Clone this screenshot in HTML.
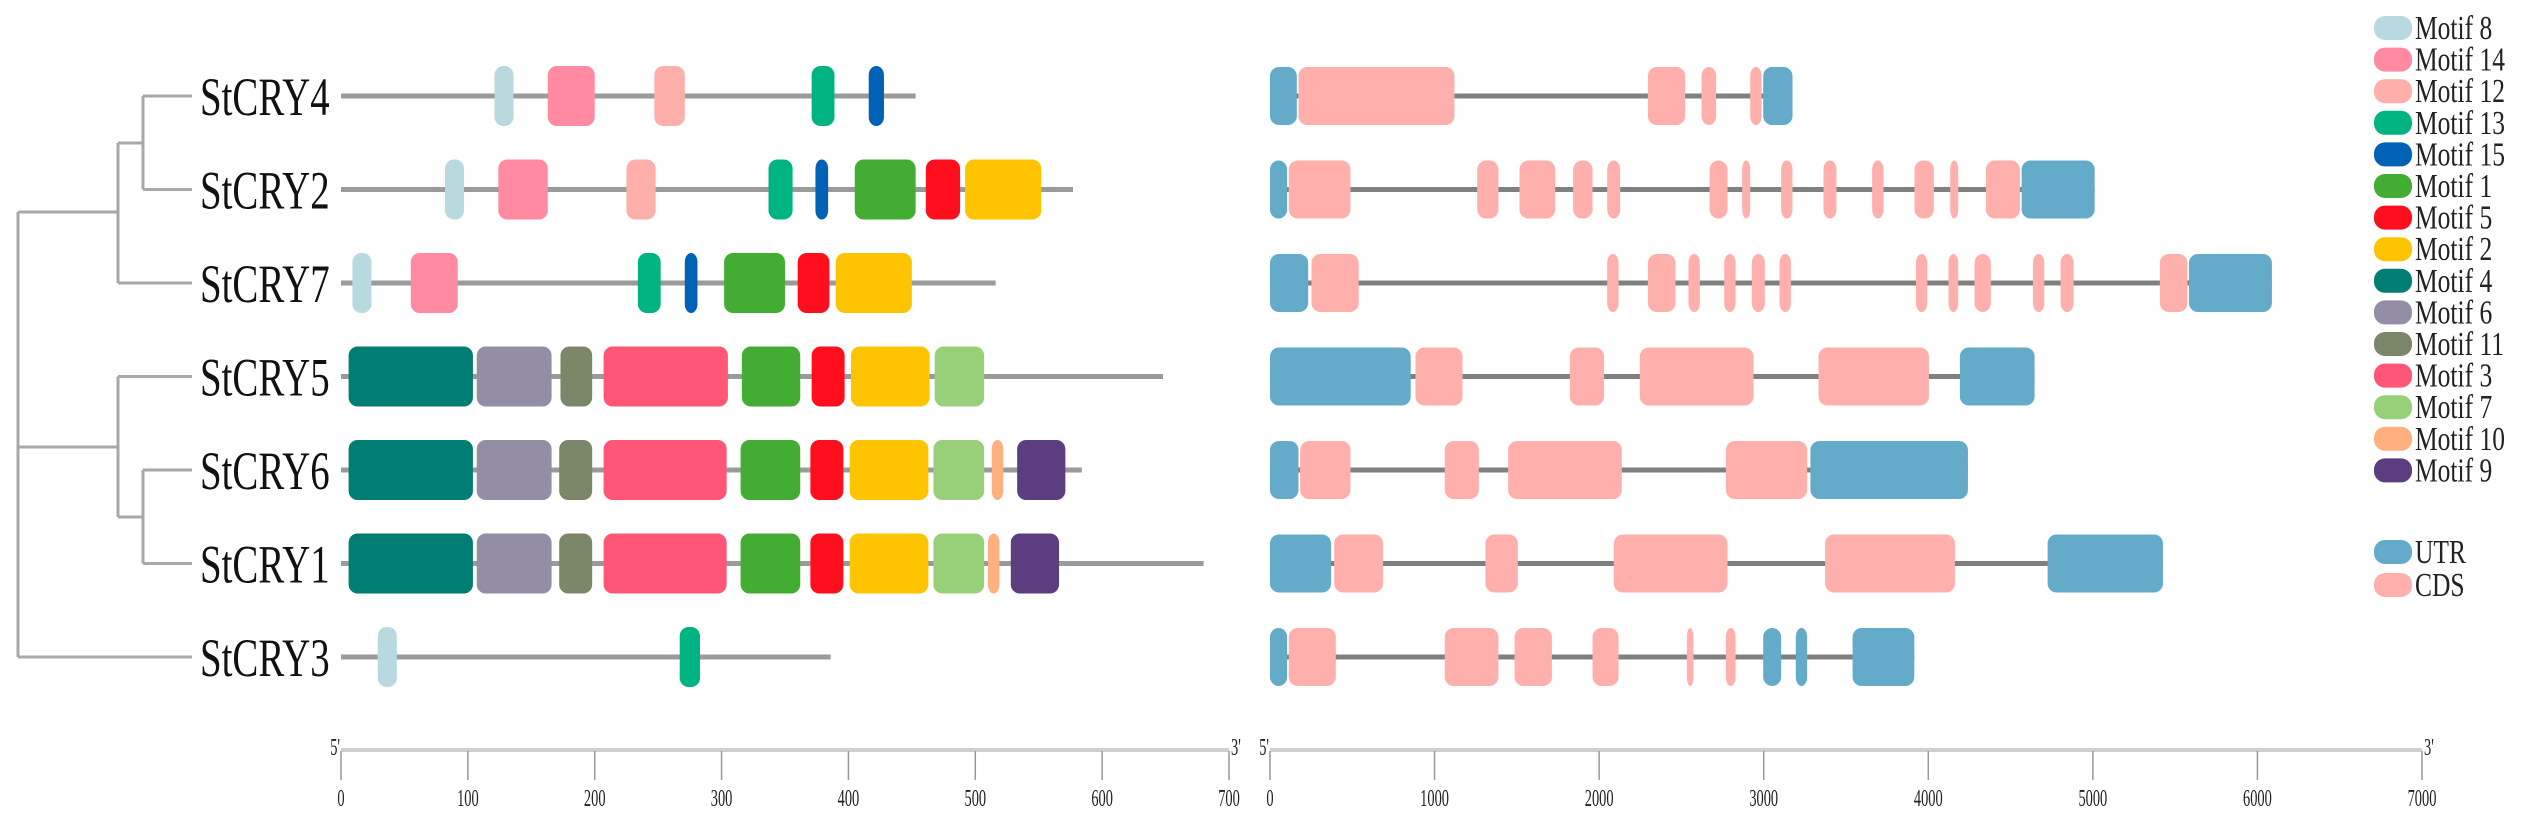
<!DOCTYPE html>
<html><head><meta charset="utf-8"><style>
html,body{margin:0;padding:0;background:#fff;}
svg{display:block;}
text{font-family:"Liberation Serif",serif;}
</style></head>
<body>
<svg id="chart" width="2532" height="817" viewBox="0 0 2532 817" xmlns="http://www.w3.org/2000/svg"></svg>
<script>
const genes = ["StCRY4","StCRY2","StCRY7","StCRY5","StCRY6","StCRY1","StCRY3"];
const proteinLengths = [453,577,516,648,584,680,386];
const motifNames = ["Motif 8","Motif 14","Motif 12","Motif 13","Motif 15","Motif 1","Motif 5","Motif 2","Motif 4","Motif 6","Motif 11","Motif 3","Motif 7","Motif 10","Motif 9"];
const motifColors = {"Motif 8":"#B7D9DF","Motif 14":"#FF8AA1","Motif 12":"#FFAFAA","Motif 13":"#00B482","Motif 15":"#0061B5","Motif 1":"#43AC33","Motif 5":"#FF0F1E","Motif 2":"#FFC400","Motif 4":"#017E73","Motif 6":"#938DA6","Motif 11":"#7C876A","Motif 3":"#FF5677","Motif 7":"#98D079","Motif 10":"#FFB07E","Motif 9":"#5C3E80"};
const motifsCRY4 = [["Motif 8",121,136],["Motif 14",163,200],["Motif 12",247,271],["Motif 13",371,389],["Motif 15",416,428]];
const motifsCRY2 = [["Motif 8",82,97],["Motif 14",124,163],["Motif 12",225,248],["Motif 13",337,356],["Motif 15",374,384],["Motif 1",405,453],["Motif 5",461,488],["Motif 2",492,552]];
const motifsCRY7 = [["Motif 8",9,24],["Motif 14",55,92],["Motif 13",234,252],["Motif 15",271,281],["Motif 1",302,350],["Motif 5",360,385],["Motif 2",390,450]];
const motifsCRY5 = [["Motif 4",6,104],["Motif 6",107,166],["Motif 11",173,198],["Motif 3",207,305],["Motif 1",316,362],["Motif 5",371,397],["Motif 2",402,464],["Motif 7",468,507]];
const motifsCRY6 = [["Motif 4",6,104],["Motif 6",107,166],["Motif 11",172,198],["Motif 3",207,304],["Motif 1",315,362],["Motif 5",370,396],["Motif 2",401,463],["Motif 7",467,507],["Motif 10",513,522],["Motif 9",533,571]];
const motifsCRY1 = [["Motif 4",6,104],["Motif 6",107,166],["Motif 11",172,198],["Motif 3",207,304],["Motif 1",315,362],["Motif 5",370,396],["Motif 2",401,463],["Motif 7",467,507],["Motif 10",510,519],["Motif 9",528,566]];
const motifsCRY3 = [["Motif 8",29,44],["Motif 13",267,283]];
const motifRows = [motifsCRY4,motifsCRY2,motifsCRY7,motifsCRY5,motifsCRY6,motifsCRY1,motifsCRY3];
const geneLengths = [3175,5011,6088,4646,4241,5426,3915];
const exonsCRY4 = [["UTR",0,163],["CDS",173,1121],["CDS",2296,2523],["CDS",2622,2711],["CDS",2918,2987],["UTR",2997,3175]];
const exonsCRY2 = [["UTR",0,104],["CDS",114,489],["CDS",1259,1388],["CDS",1516,1733],["CDS",1842,1960],["CDS",2049,2128],["CDS",2671,2780],["CDS",2869,2918],["CDS",3106,3175],["CDS",3363,3442],["CDS",3659,3728],["CDS",3916,4034],["CDS",4133,4182],["CDS",4350,4557],["UTR",4567,5011]];
const exonsCRY7 = [["UTR",0,232],["CDS",252,539],["CDS",2049,2118],["CDS",2296,2464],["CDS",2543,2612],["CDS",2760,2829],["CDS",2928,3007],["CDS",3096,3165],["CDS",3925,3994],["CDS",4123,4182],["CDS",4281,4380],["CDS",4636,4705],["CDS",4804,4883],["CDS",5407,5575],["UTR",5584,6088]];
const exonsCRY5 = [["UTR",0,855],["CDS",884,1170],["CDS",1822,2030],["CDS",2247,2938],["CDS",3333,4004],["UTR",4192,4646]];
const exonsCRY6 = [["UTR",0,173],["CDS",183,489],["CDS",1062,1269],["CDS",1447,2138],["CDS",2770,3264],["UTR",3284,4241]];
const exonsCRY1 = [["UTR",0,371],["CDS",390,687],["CDS",1309,1506],["CDS",2089,2780],["CDS",3373,4162],["UTR",4725,5426]];
const exonsCRY3 = [["UTR",0,104],["CDS",114,400],["CDS",1062,1388],["CDS",1486,1713],["CDS",1960,2118],["CDS",2533,2573],["CDS",2770,2829],["UTR",2997,3106],["UTR",3195,3264],["UTR",3540,3915]];
const exonRows = [exonsCRY4,exonsCRY2,exonsCRY7,exonsCRY5,exonsCRY6,exonsCRY1,exonsCRY3];
const featureColors = {"UTR":"#64ABCA","CDS":"#FFB0AC"};
const proteinTicks = [0,100,200,300,400,500,600,700];
const geneTicks = [0,1000,2000,3000,4000,5000,6000,7000];

const NS="http://www.w3.org/2000/svg";
const svg=document.getElementById('chart');
function mk(tag,attrs,parent){const e=document.createElementNS(NS,tag);for(const k in attrs)e.setAttribute(k,attrs[k]);(parent||svg).appendChild(e);return e;}
const px = v => 341 + v*(1229-341)/700;
const gx = v => 1270 + v*(2422-1270)/7000;
const rowY = i => 96 + i*93.5;
const BH = 60;

// tree
const treeG = mk('g',{});


const tl = (x1,y1,x2,y2)=>mk('line',{x1,y1,x2,y2,stroke:'#a8a8a8','stroke-width':3},treeG);
const y = genes.map((g,i)=>rowY(i));
tl(18,212,18,y[6]); tl(18,212,118,212); tl(18,447,118,447);
tl(118,143,118,y[2]); tl(118,143,143,143); tl(143,y[0],143,y[1]);
tl(118,y[3],118,517); tl(118,517,143,517); tl(143,y[4],143,y[5]);
tl(143,y[0],192,y[0]); tl(143,y[1],192,y[1]); tl(118,y[2],192,y[2]); tl(118,y[3],192,y[3]);
tl(143,y[4],192,y[4]); tl(143,y[5],192,y[5]); tl(18,y[6],192,y[6]);

function box(x1,x2,cy,h,color,g){const w=Math.max(x2-x1,2);return mk('rect',{x:x1,y:cy-h/2,width:w,height:h,rx:Math.min(9,w/2),ry:9,fill:color},g);}

genes.forEach((name,i)=>{
  const cy=rowY(i);
  const t=mk('text',{x:0,y:0,'font-size':54,fill:'#111',transform:`translate(200,${cy+19}) scale(0.72,1)`});
  t.textContent=name;
  
  
  const pg=mk('g',{});
  
  
  mk('line',{x1:px(0),y1:cy,x2:px(proteinLengths[i]),y2:cy,stroke:'#9a9a9a','stroke-width':5},pg);
  motifRows[i].forEach(m=>{
    const r=box(px(m[1]),px(m[2]),cy,BH,motifColors[m[0]],pg);
    
    
  });
  const gg=mk('g',{});
  
  
  mk('line',{x1:gx(0),y1:cy,x2:gx(geneLengths[i]),y2:cy,stroke:'#808080','stroke-width':5},gg);
  exonRows[i].forEach(e=>{
    const r=box(gx(e[1]),gx(e[2]),cy,58,featureColors[e[0]],gg);
    
    
  });
});

function axis(name,x0,x1,ticks,fn){
  const g=mk('g',{});
  
  
  mk('line',{x1:x0,y1:750,x2:x1,y2:750,stroke:'#cfcfcf','stroke-width':4},g);
  ticks.forEach(t=>{
    const x=fn(t);
    mk('line',{x1:x,y1:751,x2:x,y2:780,stroke:'#999','stroke-width':1.5},g);
    const tx=mk('text',{x:0,y:0,'font-size':24,'text-anchor':'middle',fill:'#222',transform:`translate(${x},${806}) scale(0.6,1)`},g);
    tx.textContent=t;
  });
  const a=mk('text',{x:0,y:0,'font-size':24,'text-anchor':'end',fill:'#222',transform:`translate(${x0-1},${755}) scale(0.6,1)`},g);a.textContent="5'";
  const b=mk('text',{x:0,y:0,'font-size':24,fill:'#222',transform:`translate(${x1+2},${755}) scale(0.6,1)`},g);b.textContent="3'";
}
axis('protein-length-axis',px(0),px(700),proteinTicks,px);
axis('gene-length-axis',gx(0),gx(7000),geneTicks,gx);

// legend
const lg=mk('g',{});


const legItems = motifNames.map(n=>[n,motifColors[n]]);
legItems.forEach((it,k)=>{
  const cy=28+k*31.6;
  const e=mk('g',{},lg);
  
  
  mk('rect',{x:2374,y:cy-12,width:38,height:24,rx:11,fill:it[1]},e);
  const t=mk('text',{x:0,y:0,'font-size':34,fill:'#222',transform:`translate(2415,${cy+11}) scale(0.75,1)`},e);
  t.textContent=it[0];
});
[["UTR",552],["CDS",585]].forEach(it=>{
  const e=mk('g',{},lg);
  
  
  mk('rect',{x:2374,y:it[1]-12,width:38,height:24,rx:11,fill:featureColors[it[0]]},e);
  const t=mk('text',{x:0,y:0,'font-size':34,fill:'#222',transform:`translate(2415,${it[1]+11}) scale(0.75,1)`},e);
  t.textContent=it[0];
});
</script>
</body></html>
